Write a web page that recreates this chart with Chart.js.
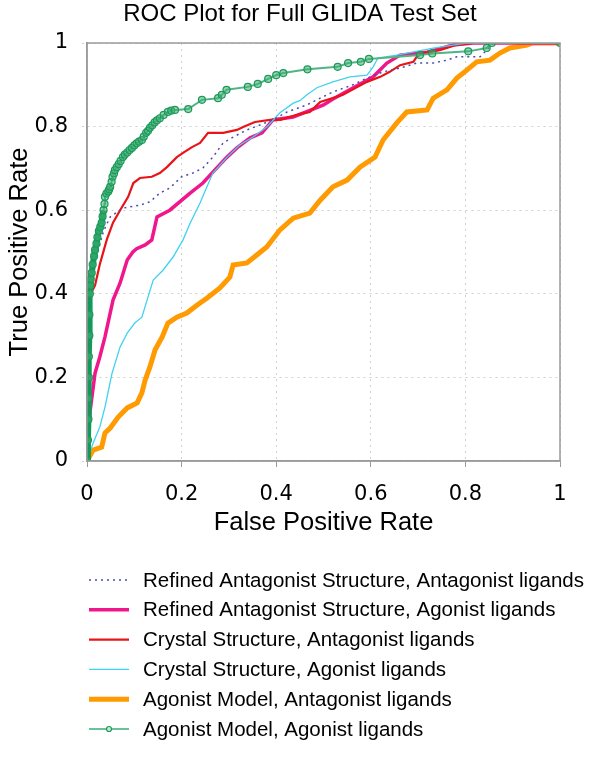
<!DOCTYPE html>
<html>
<head>
<meta charset="utf-8">
<script src="https://cdn.jsdelivr.net/npm/chart.js@4.4.1/dist/chart.umd.min.js"></script>
<style>
  body { margin: 0; background: #fff; }
  canvas { display: block; }
</style>
</head>
<body>
<canvas id="rocChart" width="600" height="763"></canvas>
<script>
// Tick labels
const xTickLabels = ['0', '0.2', '0.4', '0.6', '0.8', '1'];
const yTickLabels = ['0', '0.2', '0.4', '0.6', '0.8', '1'];

// Series names (legend order)
const seriesNames = [
  'Refined Antagonist Structure, Antagonist ligands',
  'Refined Antagonist Structure, Agonist ligands',
  'Crystal Structure, Antagonist ligands',
  'Crystal Structure, Agonist ligands',
  'Agonist Model, Antagonist ligands',
  'Agonist Model, Agonist ligands'
];

// Refined Antagonist Structure, Antagonist ligands
const refAntagFPR = [0, 0.002, 0.005, 0.01, 0.02, 0.035, 0.049, 0.076, 0.112, 0.133, 0.154, 0.175, 0.2, 0.224, 0.245, 0.266, 0.288, 0.309, 0.338, 0.366, 0.393, 0.423, 0.465, 0.493, 0.52, 0.562, 0.592, 0.626, 0.662, 0.697, 0.732, 0.761, 0.782, 0.831, 0.845, 0.858, 1];
const refAntagTPR = [0, 0.2, 0.35, 0.42, 0.49, 0.55, 0.584, 0.605, 0.612, 0.62, 0.641, 0.653, 0.68, 0.689, 0.701, 0.727, 0.761, 0.775, 0.792, 0.804, 0.816, 0.835, 0.852, 0.868, 0.883, 0.9, 0.916, 0.931, 0.94, 0.952, 0.952, 0.959, 0.967, 0.967, 0.983, 1, 1];

// Refined Antagonist Structure, Agonist ligands
const refAgonFPR = [0, 0.003, 0.006, 0.017, 0.027, 0.038, 0.055, 0.07, 0.085, 0.097, 0.105, 0.123, 0.137, 0.148, 0.175, 0.218, 0.245, 0.27, 0.296, 0.317, 0.345, 0.37, 0.393, 0.436, 0.478, 0.5, 0.52, 0.562, 0.605, 0.634, 0.662, 0.719, 0.774, 0.816, 1];
const refAgonTPR = [0, 0.06, 0.115, 0.21, 0.249, 0.297, 0.385, 0.426, 0.481, 0.5, 0.508, 0.517, 0.529, 0.584, 0.6, 0.641, 0.665, 0.696, 0.727, 0.749, 0.773, 0.785, 0.816, 0.823, 0.842, 0.852, 0.866, 0.892, 0.919, 0.952, 0.971, 0.978, 0.995, 1, 1];

// Crystal Structure, Antagonist ligands
const crysAntagFPR = [0, 0.003, 0.008, 0.017, 0.027, 0.042, 0.055, 0.07, 0.087, 0.098, 0.112, 0.137, 0.154, 0.169, 0.19, 0.203, 0.222, 0.239, 0.256, 0.288, 0.317, 0.33, 0.355, 0.387, 0.408, 0.45, 0.471, 0.493, 0.518, 0.541, 0.567, 0.592, 0.62, 0.64, 0.662, 0.69, 0.697, 0.71, 0.746, 0.778, 0.816, 1];
const crysAntagTPR = [0, 0.25, 0.4, 0.42, 0.47, 0.53, 0.57, 0.6, 0.632, 0.665, 0.677, 0.68, 0.689, 0.703, 0.727, 0.737, 0.751, 0.761, 0.785, 0.785, 0.792, 0.799, 0.811, 0.816, 0.816, 0.83, 0.835, 0.859, 0.868, 0.876, 0.892, 0.907, 0.919, 0.931, 0.947, 0.955, 0.967, 0.976, 0.983, 0.995, 1, 1];

// Crystal Structure, Agonist ligands
const crysAgonFPR = [0, 0.013, 0.027, 0.038, 0.053, 0.07, 0.085, 0.101, 0.116, 0.127, 0.14, 0.161, 0.182, 0.203, 0.218, 0.239, 0.266, 0.296, 0.323, 0.351, 0.38, 0.408, 0.436, 0.45, 0.465, 0.486, 0.52, 0.556, 0.592, 0.605, 0.615, 0.655, 0.732, 0.774, 0.803, 1];
const crysAgonTPR = [0, 0.043, 0.081, 0.129, 0.21, 0.273, 0.306, 0.33, 0.344, 0.385, 0.433, 0.457, 0.488, 0.529, 0.569, 0.617, 0.689, 0.727, 0.756, 0.775, 0.799, 0.833, 0.856, 0.862, 0.876, 0.893, 0.907, 0.919, 0.923, 0.943, 0.964, 0.971, 0.988, 0.995, 1, 1];

// Agonist Model, Antagonist ligands
const agModAntagFPR = [0, 0.013, 0.031, 0.038, 0.049, 0.066, 0.085, 0.106, 0.116, 0.123, 0.133, 0.144, 0.159, 0.171, 0.19, 0.211, 0.233, 0.254, 0.281, 0.302, 0.309, 0.338, 0.359, 0.38, 0.408, 0.436, 0.471, 0.493, 0.52, 0.55, 0.577, 0.609, 0.626, 0.655, 0.676, 0.719, 0.732, 0.761, 0.782, 0.803, 0.824, 0.852, 0.873, 0.894, 0.93, 0.943, 1];
const agModAntagTPR = [0, 0.026, 0.033, 0.067, 0.079, 0.105, 0.127, 0.139, 0.163, 0.194, 0.225, 0.266, 0.297, 0.33, 0.344, 0.354, 0.373, 0.39, 0.414, 0.44, 0.469, 0.474, 0.493, 0.512, 0.553, 0.581, 0.593, 0.624, 0.656, 0.672, 0.703, 0.727, 0.768, 0.809, 0.835, 0.84, 0.868, 0.888, 0.916, 0.935, 0.955, 0.959, 0.976, 0.988, 0.995, 1, 1];

// Agonist Model, Agonist ligands (marked points)
const agModAgonFPR = [0, 0.002, 0.003, 0.003, 0.004, 0.004, 0.005, 0.005, 0.006, 0.007, 0.008, 0.01, 0.012, 0.015, 0.017, 0.02, 0.022, 0.025, 0.028, 0.031, 0.033, 0.035, 0.037, 0.038, 0.041, 0.045, 0.047, 0.049, 0.052, 0.054, 0.057, 0.059, 0.063, 0.067, 0.071, 0.076, 0.08, 0.085, 0.09, 0.095, 0.1, 0.105, 0.11, 0.116, 0.12, 0.125, 0.129, 0.133, 0.138, 0.143, 0.148, 0.154, 0.162, 0.171, 0.178, 0.186, 0.214, 0.243, 0.277, 0.285, 0.295, 0.34, 0.361, 0.383, 0.4, 0.415, 0.466, 0.53, 0.552, 0.579, 0.596, 0.704, 0.73, 0.806, 0.845, 0.856, 1];
const agModAgonTPR = [0, 0.05, 0.1, 0.15, 0.2, 0.25, 0.3, 0.35, 0.4, 0.42, 0.435, 0.45, 0.47, 0.49, 0.505, 0.52, 0.535, 0.55, 0.56, 0.57, 0.585, 0.6, 0.615, 0.632, 0.64, 0.645, 0.65, 0.656, 0.668, 0.68, 0.688, 0.696, 0.703, 0.71, 0.718, 0.727, 0.733, 0.738, 0.744, 0.749, 0.755, 0.76, 0.764, 0.768, 0.776, 0.785, 0.79, 0.797, 0.803, 0.81, 0.815, 0.82, 0.828, 0.835, 0.838, 0.84, 0.842, 0.864, 0.868, 0.876, 0.888, 0.895, 0.902, 0.914, 0.923, 0.928, 0.937, 0.943, 0.952, 0.955, 0.962, 0.971, 0.975, 0.98, 0.988, 1, 1];

function toPoints(xs, ys) {
  return xs.map((x, i) => ({ x: x, y: ys[i] }));
}

// Custom legend under the plot, plus the box round the plot area
const rocExtras = {
  id: 'rocExtras',
  afterDraw(chart) {
    const ctx = chart.ctx;
    const area = chart.chartArea;

    ctx.save();
    ctx.strokeStyle = '#9a9a9a';
    ctx.lineWidth = 1.5;
    ctx.strokeRect(area.left, area.top, area.right - area.left, area.bottom - area.top);
    ctx.restore();

    const startY = area.bottom + 119;
    const rowGap = 29.8;
    ctx.save();
    ctx.font = '20.5px "Liberation Sans", Arial, sans-serif';
    ctx.textBaseline = 'middle';
    ctx.fillStyle = '#000';
    chart.data.datasets.forEach((ds, i) => {
      const y = startY + i * rowGap;
      ctx.beginPath();
      ctx.setLineDash(ds.borderDash || []);
      ctx.strokeStyle = ds.legendColor || ds.borderColor;
      ctx.lineWidth = ds.borderWidth;
      ctx.moveTo(89, y);
      ctx.lineTo(129, y);
      ctx.stroke();
      ctx.setLineDash([]);
      if (ds.pointRadius > 0) {
        ctx.beginPath();
        ctx.arc(109, y, 2.5, 0, Math.PI * 2);
        ctx.fillStyle = '#c8ead6';
        ctx.fill();
        ctx.strokeStyle = ds.pointBorderColor;
        ctx.lineWidth = 1.2;
        ctx.stroke();
        ctx.fillStyle = '#000';
      }
      ctx.fillText(ds.label, 143, y + 1);
    });
    ctx.restore();
  }
};

const ctx = document.getElementById('rocChart').getContext('2d');

new Chart(ctx, {
  type: 'line',
  data: {
    datasets: [
      {
        label: seriesNames[0],
        data: toPoints(refAntagFPR, refAntagTPR),
        borderColor: '#4a4ab4',
        borderWidth: 1.5,
        borderDash: [2, 4],
        pointRadius: 0,
        order: 1
      },
      {
        label: seriesNames[1],
        data: toPoints(refAgonFPR, refAgonTPR),
        borderColor: '#f0168c',
        borderWidth: 3.5,
        pointRadius: 0,
        order: 4
      },
      {
        label: seriesNames[2],
        data: toPoints(crysAntagFPR, crysAntagTPR),
        borderColor: '#e81418',
        borderWidth: 2.2,
        pointRadius: 0,
        order: 3
      },
      {
        label: seriesNames[3],
        data: toPoints(crysAgonFPR, crysAgonTPR),
        borderColor: '#3fd3ee',
        borderWidth: 1.3,
        pointRadius: 0,
        order: 2
      },
      {
        label: seriesNames[4],
        data: toPoints(agModAntagFPR, agModAntagTPR),
        borderColor: '#ff9a00',
        borderWidth: 5,
        pointRadius: 0,
        order: 5
      },
      {
        label: seriesNames[5],
        data: toPoints(agModAgonFPR, agModAgonTPR),
        borderColor: '#4fb584',
        legendColor: '#6cc298',
        borderWidth: 2,
        segment: {
          borderWidth: (c) => (c.p0.parsed.y < 0.6 ? 6 : 2),
          borderColor: (c) => (c.p0.parsed.y < 0.6 ? '#15995a' : '#4fb584')
        },
        pointRadius: 3.5,
        pointBorderWidth: 1.2,
        pointBackgroundColor: 'rgba(70,175,115,0.55)',
        pointBorderColor: '#1a9a5c',
        order: 0
      }
    ]
  },
  options: {
    responsive: false,
    animation: false,
    layout: {
      padding: { left: 0, right: 0, top: 0, bottom: 223 }
    },
    elements: {
      line: { tension: 0 }
    },
    plugins: {
      legend: { display: false },
      tooltip: { enabled: false },
      title: {
        display: true,
        text: 'ROC Plot for Full GLIDA Test Set',
        color: '#000',
        font: { family: '"Liberation Sans", Arial, sans-serif', size: 24, weight: 'normal' },
        padding: { top: 0, bottom: 14.2 }
      }
    },
    scales: {
      x: {
        type: 'linear',
        min: 0,
        max: 1,
        afterFit: (scale) => { scale.height = 79; },
        ticks: {
          stepSize: 0.2,
          color: '#000',
          padding: 15,
          maxRotation: 0,
          font: { family: '"DejaVu Sans", Verdana, sans-serif', size: 21 },
          callback: (v, i) => xTickLabels[i]
        },
        grid: {
          color: '#cfcfcf',
          lineWidth: 1,
          tickLength: 6,
          tickColor: '#9a9a9a',
          tickBorderDash: []
        },
        border: { display: true, color: '#9a9a9a', width: 1.5, dash: [2, 4] },
        title: {
          display: true,
          text: 'False Positive Rate',
          color: '#000',
          font: { family: '"Liberation Sans", Arial, sans-serif', size: 25.5 },
          padding: { top: 0, bottom: 2 }
        }
      },
      y: {
        type: 'linear',
        min: 0,
        max: 1,
        afterFit: (scale) => { scale.width = 87; },
        ticks: {
          stepSize: 0.2,
          color: '#000',
          padding: 14,
          font: { family: '"DejaVu Sans", Verdana, sans-serif', size: 21 },
          callback: (v, i) => yTickLabels[i]
        },
        grid: {
          color: '#cfcfcf',
          lineWidth: 1,
          tickLength: 5,
          tickColor: '#cfcfcf',
          tickBorderDash: [2, 2]
        },
        border: { display: true, color: '#9a9a9a', width: 1.5, dash: [2, 4] },
        title: {
          display: true,
          text: 'True Positive Rate',
          color: '#000',
          font: { family: '"Liberation Sans", Arial, sans-serif', size: 25.5 },
          padding: { top: 5, bottom: 0 }
        }
      },
      yRight: {
        type: 'linear',
        position: 'right',
        min: 0,
        max: 1,
        afterFit: (scale) => { scale.width = 40; },
        ticks: { display: false },
        grid: { drawOnChartArea: false, drawTicks: false },
        border: { display: false }
      }
    }
  },
  plugins: [rocExtras]
});
</script>
</body>
</html>
